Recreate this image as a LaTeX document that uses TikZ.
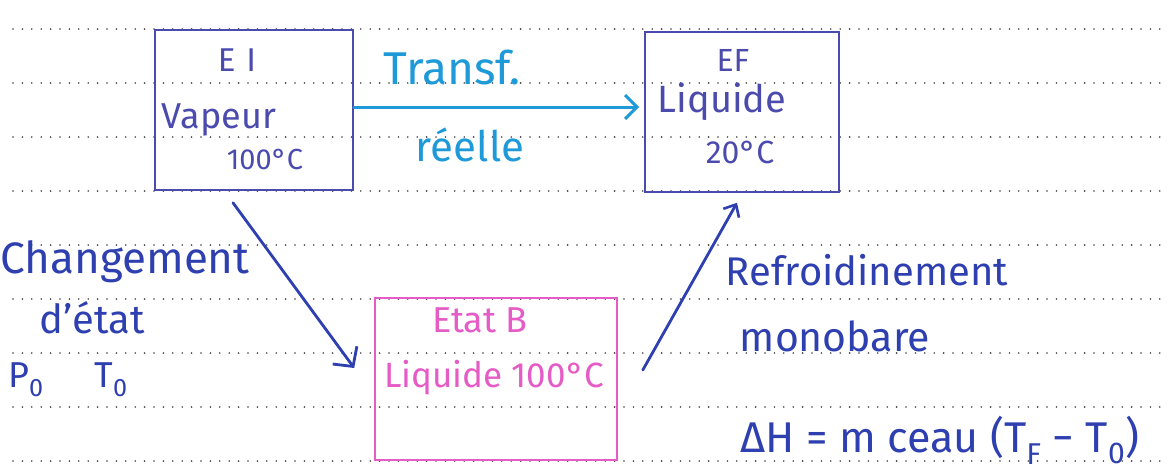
\documentclass[tikz,border=0pt]{standalone}
\usepackage{fontspec}
\setmainfont{Fira Sans}
\usetikzlibrary{arrows.meta}
\definecolor{ink}{HTML}{2E3FB0}
\definecolor{boxink}{HTML}{4B4BAE}
\definecolor{cyanink}{HTML}{1E9AD8}
\definecolor{pinkink}{HTML}{E55CC6}
\definecolor{dotgray}{HTML}{444444}
\tikzset{
  dotline/.style={dotgray, line width=1.8pt, line cap=round, dash pattern=on 0pt off 9.4pt},
  statebox/.style={draw=boxink, line width=1.6pt, inner sep=0pt},
  pinkbox/.style={draw=pinkink, line width=1.6pt, inner sep=0pt},
  hand/.style={text=ink, inner sep=0pt},
  boxtext/.style={text=boxink, inner sep=0pt},
  pinktext/.style={text=pinkink, inner sep=0pt},
  cyantext/.style={text=cyanink, inner sep=0pt},
  bluearrow/.style={draw=ink, line width=2.8pt, line cap=round, -{Straight Barb[length=14pt,width=30pt,line width=2.8pt]}},
  uparrow/.style={draw=ink, line width=2.8pt, line cap=round, -{Straight Barb[length=10pt,width=18pt,line width=2.6pt]}},
  cyanarrow/.style={draw=cyanink, line width=3pt, line cap=round, -{Straight Barb[length=12pt,width=24pt,line width=3pt]}}
}
\begin{document}
\begin{tikzpicture}[x=1pt, y=-1pt]
\fill[white] (0,0) rectangle (1168,474);
\path[use as bounding box] (0,0) rectangle (1168,474);
% ruled dotted paper
\foreach \yy in {29,83,137,191,245,299,353,407,461}
  \draw[dotline] (13,\yy) -- (1168,\yy);
% boxes
\node[statebox, minimum width=198pt, minimum height=160pt] (ei) at (254,110) {};
\node[statebox, minimum width=194pt, minimum height=160pt] (ef) at (742,112) {};
\node[pinkbox, minimum width=242pt, minimum height=162pt] (eb) at (496,379) {};
% box texts
\node[boxtext, font=\fontsize{33}{35}\selectfont] (eit) at (237,60) {E\,\,I};
\node[boxtext, font=\fontsize{36}{38}\selectfont] (eiv) at (219,120) {Vapeur};
\node[boxtext, font=\fontsize{29}{31}\selectfont] (eitemp) at (265,160) {100°C};
\node[boxtext, font=\fontsize{32}{34}\selectfont] (eft) at (733,60) {EF};
\node[boxtext, font=\fontsize{38}{40}\selectfont] (efl) at (722,102) {Liquide};
\node[boxtext, font=\fontsize{32}{34}\selectfont] (eftemp) at (740,152) {20°C};
\node[pinktext, font=\fontsize{36}{38}\selectfont] (ebt) at (480,320) {Etat B};
\node[pinktext, font=\fontsize{35}{37}\selectfont] (ebl) at (494,378) {Liquide 100°C};
% connectors
\draw[cyanarrow] ([yshift=3pt]ei.east) -- ([xshift=-5pt,yshift=5pt]ef.west);
\node[cyantext, font=\fontsize{46}{48}\selectfont] (tr) at (452,68) {Transf.};
\node[cyantext, font=\fontsize{42}{44}\selectfont] (re) at (470,145) {réelle};
\draw[bluearrow] ([xshift=-21pt,yshift=-12pt]ei.south) -- ([xshift=-20pt,yshift=11pt]eb.west);
\draw[uparrow] ([xshift=25pt,yshift=9pt]eb.east) -- ([xshift=-5pt,yshift=-10pt]ef.south);
% side notes
\node[hand, font=\fontsize{44}{46}\selectfont] (ch) at (125,262) {Changement};
\node[hand, font=\fontsize{40}{42}\selectfont] (de) at (92,318) {d'état};
\node[hand, font=\fontsize{36}{38}\selectfont] (p0) at (26,380) {P\textsubscript{0}};
\node[hand, font=\fontsize{36}{38}\selectfont] (t0) at (111,380) {T\textsubscript{0}};
\node[hand, font=\fontsize{40}{42}\selectfont] (rf) at (867,270) {Refroidinement};
\node[hand, font=\fontsize{41}{43}\selectfont] (mo) at (835,336) {monobare};
\node[hand, font=\fontsize{43}{45}\selectfont] (dh) at (940,440) {ΔH = m ceau (T\textsubscript{F} − T\textsubscript{0})};
\end{tikzpicture}
\end{document}
